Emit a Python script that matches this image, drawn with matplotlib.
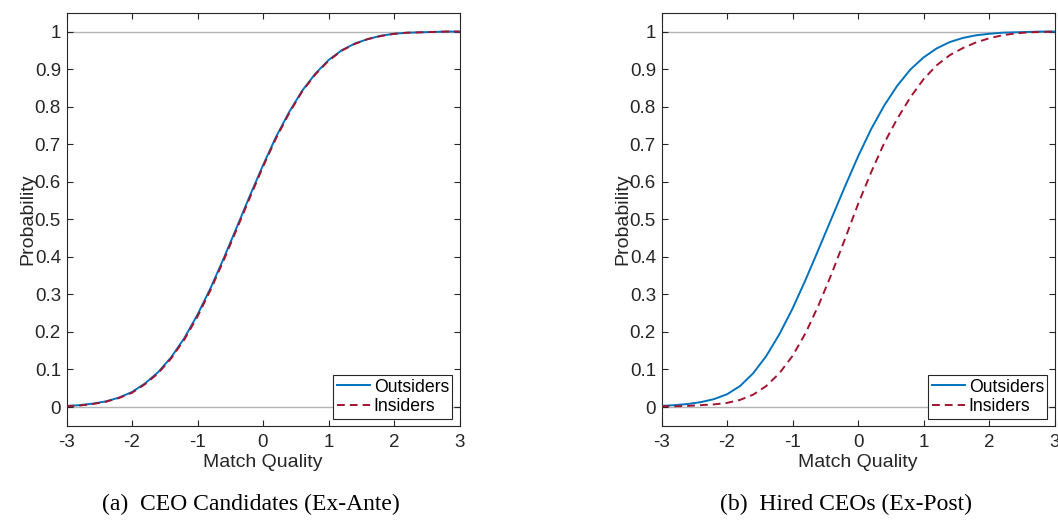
import matplotlib
matplotlib.use("Agg")
import matplotlib.pyplot as plt
import numpy as np

plt.rcParams["font.family"] = ["Liberation Sans", "DejaVu Sans"]
plt.rcParams["axes.unicode_minus"] = False

# match quality grid and cumulative probabilities
quality = [-3.0, -2.8, -2.6, -2.4, -2.2, -2.0, -1.8, -1.6, -1.4, -1.2, -1.0,
           -0.8, -0.6, -0.4, -0.2, 0.0, 0.2, 0.4, 0.6, 0.8, 1.0,
           1.2, 1.4, 1.6, 1.8, 2.0, 2.2, 2.4, 2.6, 2.8, 3.0]

ante_outsiders = [0.003, 0.005, 0.009, 0.015, 0.025, 0.040, 0.063, 0.093, 0.133, 0.184, 0.246,
                  0.317, 0.396, 0.479, 0.563, 0.644, 0.720, 0.786, 0.843, 0.888, 0.924,
                  0.950, 0.968, 0.980, 0.989, 0.994, 0.997, 0.998, 0.999, 1.000, 1.000]
ante_insiders = [0.002, 0.004, 0.008, 0.014, 0.024, 0.038, 0.061, 0.090, 0.130, 0.180, 0.241,
                 0.312, 0.391, 0.474, 0.558, 0.640, 0.716, 0.783, 0.841, 0.886, 0.922,
                 0.949, 0.967, 0.980, 0.988, 0.994, 0.997, 0.998, 0.999, 1.000, 1.000]

post_outsiders = [0.003, 0.005, 0.008, 0.013, 0.021, 0.034, 0.056, 0.090, 0.136, 0.194, 0.262,
                  0.339, 0.421, 0.504, 0.587, 0.667, 0.740, 0.803, 0.856, 0.899, 0.931,
                  0.955, 0.972, 0.983, 0.990, 0.994, 0.997, 0.998, 0.999, 1.000, 1.000]
post_insiders = [0.002, 0.002, 0.003, 0.005, 0.007, 0.011, 0.019, 0.033, 0.056, 0.090, 0.136,
                 0.197, 0.272, 0.356, 0.447, 0.540, 0.625, 0.703, 0.768, 0.825, 0.873,
                 0.910, 0.937, 0.956, 0.971, 0.982, 0.990, 0.995, 0.998, 0.999, 1.000]

captions = ["(a)  CEO Candidates (Ex-Ante)", "(b)  Hired CEOs (Ex-Post)"]
panels = [(ante_outsiders, ante_insiders), (post_outsiders, post_insiders)]

BLUE = "#0072BD"
RED = "#A2142F"
FRAME = "#262626"

fig = plt.figure(figsize=(10.58, 5.25), dpi=100)
lefts = [66.5 / 1058, 661.5 / 1058]
for left, (outs, ins), cap in zip(lefts, panels, captions):
    ax = fig.add_axes([left, 99.2 / 525, 393 / 1058, 413 / 525])
    ax.axhline(0, color="#b4b4b4", lw=1.0, zorder=1)
    ax.axhline(1, color="#b4b4b4", lw=1.0, zorder=1)
    ax.plot(quality, outs, color=BLUE, lw=1.4, label="Outsiders", zorder=3)
    ax.plot(quality, ins, color=RED, lw=1.4, ls=(0, (4, 2.6)), label="Insiders", zorder=4)
    ax.set_xlim(-3, 3)
    ax.set_ylim(-0.05, 1.05)
    ax.set_xticks(np.arange(-3, 4, 1))
    ax.set_yticks(np.round(np.arange(0, 1.01, 0.1), 1))
    ax.set_yticklabels(["0"] + ["%.1f" % v for v in np.arange(0.1, 0.95, 0.1)] + ["1"])
    ax.tick_params(direction="in", top=True, right=True, length=4, width=0.8,
                   color=FRAME, labelcolor=FRAME, labelsize=13.5)
    ax.tick_params(axis="y", pad=4)
    ax.tick_params(axis="x", pad=6)
    for s in ax.spines.values():
        s.set_color(FRAME)
        s.set_linewidth(0.8)
    ax.set_xlabel("Match Quality", fontsize=14, color=FRAME, labelpad=2)
    ax.set_ylabel("Probability", fontsize=14, color=FRAME, labelpad=-1)
    leg = ax.legend(loc="lower right", fontsize=12.7, frameon=True, fancybox=False,
                    edgecolor=FRAME, framealpha=1, handlelength=1.9, handletextpad=0.2,
                    borderpad=0.2, labelspacing=0.15, borderaxespad=0.4)
    leg.get_frame().set_linewidth(0.8)
    ax.text(0.47, -0.19, cap, transform=ax.transAxes, ha="center", va="center",
            fontsize=17, family=["Liberation Serif", "DejaVu Serif"])

fig.savefig("out.png", dpi=100)
